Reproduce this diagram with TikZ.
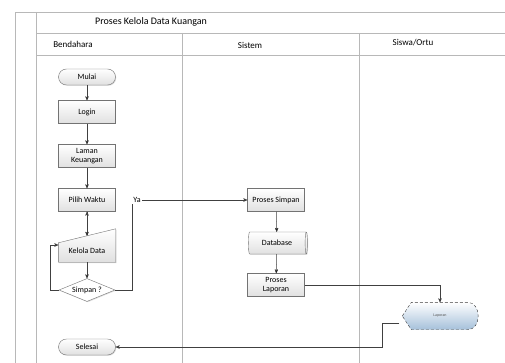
\documentclass[tikz,border=0pt]{standalone}
\usepackage{fontspec}
\setmainfont{Carlito}
\usetikzlibrary{arrows,shapes.geometric,calc,shadows}
\definecolor{lapblue}{RGB}{165,192,218}

\begin{document}
\begin{tikzpicture}[x=1pt,y=-1pt,>=stealth',auto,
  lane/.style={draw=black!28,line width=0.9pt},
  box/.style={draw=black!55,top color=white,bottom color=black!12,
    minimum width=57pt,minimum height=23pt,inner sep=1pt,align=center,
    font=\fontsize{8}{9.5}\selectfont,
    drop shadow={shadow xshift=0.8pt,shadow yshift=-0.8pt,opacity=0.25}},
  term/.style={box,rounded corners=8pt,minimum height=16pt},
  flow/.style={->,draw=black!75,line width=0.5pt}]
  \useasboundingbox (0,0) rectangle (505,363);
  \draw[lane] (505,12) -- (15,12) -- (15,363);
  \draw[lane] (36,12) -- (36,363);
  \draw[lane] (36,33) -- (505,33);
  \draw[lane] (36,55) -- (505,55);
  \draw[lane] (182,33) -- (182,363);
  \draw[lane] (359,33) -- (359,363);
  \node (T) at (151,22) {\fontsize{10}{12}\selectfont Proses Kelola Data Kuangan};
  \node (L1) at (73,44) {\fontsize{9}{11}\selectfont Bendahara};
  \node (L2) at (250,45) {\fontsize{9}{11}\selectfont Sistem};
  \node (L3) at (413,43) {\fontsize{9}{11}\selectfont Siswa/Ortu};

  \node[term] (A) at (87,77) {Mulai};
  \node[box] (B) at (87,112) {Login};
  \node[box] (C) at (87,156) {Laman\\Keuangan};
  \node[box] (D) at (87,200) {Pilih Waktu};
  \node[minimum width=57pt,minimum height=22pt,inner sep=0pt] (E) at (87,251) {};
  \draw[draw=black!55,top color=white,bottom color=black!12,
    drop shadow={shadow xshift=0.8pt,shadow yshift=-0.8pt,opacity=0.25}]
    (E.south west) -- (E.south east) -- ($(E.north east)+(0,-11)$)
    -- ($(E.north west)+(0,3)$) -- cycle;
  \node[font=\fontsize{8}{9.5}\selectfont] at (E) {Kelola Data};
  \coordinate (Etop) at ($(E.north)+(0,-4)$);
  \node[box,diamond,aspect=2.5,minimum width=56pt,minimum height=23pt,
    top color=white,bottom color=white] (F) at (87,290) {Simpan ?};
  \node[term] (K) at (87,347) {Selesai};

  \node[box] (P) at (276,200) {Proses Simpan};
  \node[box,cylinder,aspect=0.3,minimum width=22pt,minimum height=59pt] (Q) at (277,243) {Database};
  \node[box] (R) at (276,285) {Proses\\Laporan};

  \node[minimum width=75pt,minimum height=27pt,inner sep=0pt] (G) at (440,316) {};
  \draw[densely dashed,draw=black!75,top color=white,bottom color=lapblue]
    (G.west) -- ($(G.north west)+(9,0)$) -- ($(G.north east)+(-10,0)$)
    .. controls ($(G.north east)+(4,0)$) and ($(G.south east)+(4,0)$) .. ($(G.south east)+(-10,0)$)
    -- ($(G.south west)+(9,0)$) -- cycle;
  \node[font=\fontsize{4}{5}\selectfont,text=black!65] at (G) {Laporan};

  \path[flow] (A) edge (B)
    (B) edge (C)
    (C) edge (D)
    (D.south) edge (Etop)
    (E) edge (F)
    (P) edge (Q)
    (Q) edge (R);
  \draw[flow] (F.west) -- ++(-9,0) |- ($(E.west)+(0,-6)$);
  \draw[flow] (F.east) -- ++(17,0) |- node[pos=0.5,anchor=west,fill=white,inner sep=1pt,
    font=\fontsize{8}{9}\selectfont] {Ya} (P.west);
  \draw[flow] (R.east) -| (G.north);
  \draw[flow] ($(G.west)+(-3,7)$) -- ++(-17,0) |- (K.east);
\end{tikzpicture}
\end{document}
